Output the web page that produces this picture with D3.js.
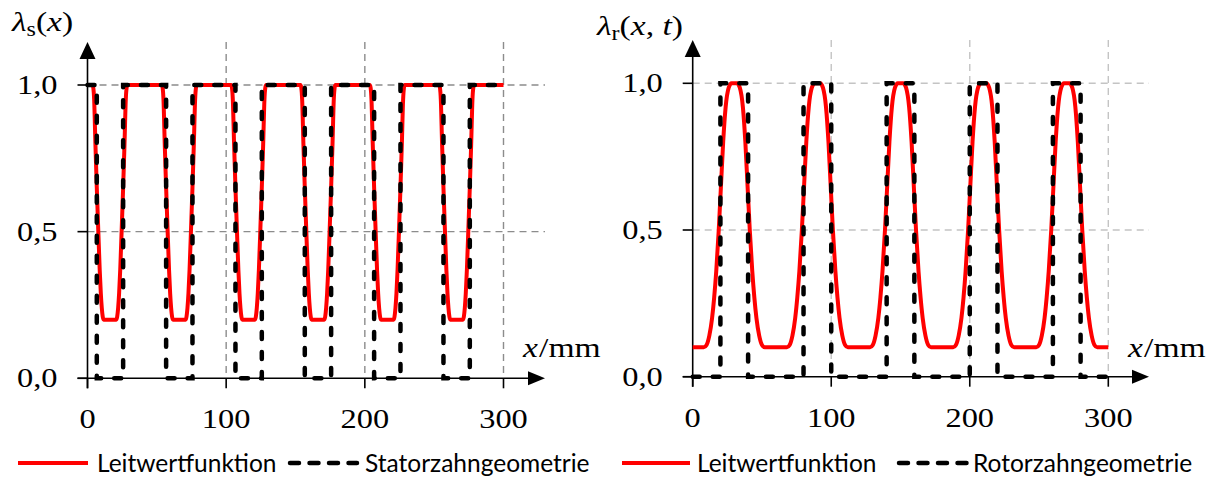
<!DOCTYPE html>
<html>
<head>
<meta charset="utf-8">
<script src="https://cdn.jsdelivr.net/npm/d3@7"></script>
<style>
    body { margin: 0; background: #fff; }
    svg text { fill: #000; }
</style>
</head>
<body>
<svg id="chart" width="1221" height="477"></svg>
<script>
// Axis ticks (shared by both panels)
const xTicks = [0, 100, 200, 300];
const xGridTicks = [100, 200, 300];
const yTicks = [0, 0.5, 1];
const yTickLabels = ['0,0', '0,5', '1,0'];
const yGridTicks = [0.5, 1];

const statorDipCenters = [16.2, 66.2, 116.2, 166.2, 216.2, 266.2];
const statorDipOffsets = [-12.6, -12, -11.4, -10.5, -9.5, -8.4, -7.4, -6.6, -5.9, -5.2, -4.6,
                          4.6, 5.2, 5.9, 6.6, 7.4, 8.4, 9.5, 10.5, 11.4, 12, 12.6];
const statorDipValues = [1, 0.99, 0.95, 0.8, 0.65, 0.5, 0.37, 0.29, 0.24, 0.21, 0.2,
                         0.2, 0.21, 0.24, 0.29, 0.37, 0.5, 0.65, 0.8, 0.95, 0.99, 1];
const statorEndValue = 1;
// Stator tooth geometry (step after)
const statorGeomX = [0, 6.7, 25.7, 56.7, 75.7, 106.7, 125.7, 156.7, 175.7, 206.7, 225.7, 256.7, 275.7, 300];
const statorGeomY = [1, 0, 1, 0, 1, 0, 1, 0, 1, 0, 1, 0, 1, 1];

const rotorPeakCenters = [30, 90, 150, 210, 270];
const rotorPeakOffsets = [-22, -20, -18, -16, -14.5, -13, -11.2, -9.6, -8, -6.2, -4, -2,
                          2, 4, 6.2, 8, 9.6, 11.2, 13, 14.5, 16, 18, 20, 22];
const rotorPeakValues = [0.1, 0.108, 0.14, 0.2, 0.27, 0.36, 0.5, 0.65, 0.8, 0.92, 0.985, 1,
                         1, 0.985, 0.92, 0.8, 0.65, 0.5, 0.36, 0.27, 0.2, 0.14, 0.108, 0.1];
const rotorEndValue = 0.1;
// Rotor tooth geometry (step after)
const rotorGeomX = [0, 20, 40, 80, 100, 140, 160, 200, 220, 260, 280, 300];
const rotorGeomY = [0, 1, 0, 1, 0, 1, 0, 1, 0, 1, 0, 0];

const legendLeft = ['Leitwertfunktion', 'Statorzahngeometrie'];
const legendRight = ['Leitwertfunktion', 'Rotorzahngeometrie'];

const svg = d3.select('#chart');
// only Liberation Serif is a true serif here; widen it a bit to look like Cambria
const serif = "'Liberation Serif', serif";
const widen = 1.2;
const sans = "Lato, 'Open Sans', sans-serif";

// Build the conductance curve from the shape placed at each centre
function buildCurve(centers, offsets, values, endValue) {
    const pts = [{ x: 0, y: endValue }];
    centers.forEach(c => {
        offsets.forEach((o, i) => pts.push({ x: c + o, y: values[i] }));
    });
    pts.push({ x: 300, y: endValue });
    return pts;
}

function drawPanel(cfg) {
    const g = svg.append('g');
    const x = d3.scaleLinear().domain([0, 300]).range(cfg.xRange);
    const y = d3.scaleLinear().domain([0, 1]).range(cfg.yRange);
    const x0 = x(0), y0 = y(0);

    // grid
    g.selectAll('.hgrid').data(yGridTicks).enter().append('line')
        .attr('x1', x0).attr('x2', cfg.xEnd)
        .attr('y1', d => y(d)).attr('y2', d => y(d))
        .attr('stroke', cfg.gridColor).attr('stroke-width', 1.4)
        .attr('stroke-dasharray', '7,5');
    g.selectAll('.vgrid').data(xGridTicks).enter().append('line')
        .attr('x1', d => x(d)).attr('x2', d => x(d))
        .attr('y1', cfg.yTop).attr('y2', y0)
        .attr('stroke', cfg.gridColor).attr('stroke-width', 1.4)
        .attr('stroke-dasharray', '7,5');

    // axes
    g.append('line').attr('x1', x0 - 10).attr('x2', cfg.xEnd - 12)
        .attr('y1', y0).attr('y2', y0).attr('stroke', '#000').attr('stroke-width', 1.6);
    g.append('line').attr('x1', x0).attr('x2', x0)
        .attr('y1', y0 + 10).attr('y2', cfg.yTop + 12).attr('stroke', '#000').attr('stroke-width', 1.6);
    g.append('path')
        .attr('d', `M${cfg.xEnd},${y0} L${cfg.xEnd - 17},${y0 - 7} L${cfg.xEnd - 17},${y0 + 7} Z`)
        .attr('fill', '#000');
    g.append('path')
        .attr('d', `M${x0},${cfg.yTop} L${x0 - 8},${cfg.yTop + 17} L${x0 + 8},${cfg.yTop + 17} Z`)
        .attr('fill', '#000');

    // ticks
    g.selectAll('.xt').data(xTicks).enter().append('line')
        .attr('x1', d => x(d)).attr('x2', d => x(d))
        .attr('y1', y0).attr('y2', y0 + 10)
        .attr('stroke', '#000').attr('stroke-width', 1.6);
    g.selectAll('.yt').data(yTicks).enter().append('line')
        .attr('x1', x0 - 10).attr('x2', x0)
        .attr('y1', d => y(d)).attr('y2', d => y(d))
        .attr('stroke', '#000').attr('stroke-width', 1.6);

    // tick labels
    g.selectAll('.xl').data(xTicks).enter().append('text')
        .attr('transform', d => `translate(${x(d)},${cfg.xLabelY}) scale(${widen},1)`)
        .attr('text-anchor', 'middle')
        .attr('font-family', serif).attr('font-size', 27)
        .text(d => d);
    g.selectAll('.yl').data(yTicks).enter().append('text')
        .attr('transform', d => `translate(${x0 - 30},${y(d) + 9}) scale(${widen},1)`)
        .attr('text-anchor', 'end')
        .attr('font-family', serif).attr('font-size', 27)
        .text((d, i) => yTickLabels[i]);

    // axis titles
    const xt = g.append('text')
        .attr('transform', `translate(${cfg.xTitle[0]},${cfg.xTitle[1]}) scale(${widen},1)`)
        .attr('font-family', serif).attr('font-size', 28);
    xt.append('tspan').attr('font-style', 'italic').text('x');
    xt.append('tspan').attr('dx', 1).text('/mm');

    const yt = g.append('text')
        .attr('transform', `translate(${cfg.yTitle[0]},${cfg.yTitle[1]}) scale(${widen},1)`)
        .attr('font-family', serif).attr('font-size', 28);
    yt.append('tspan').attr('font-style', 'italic').text('λ');
    yt.append('tspan').attr('dy', 5).attr('font-size', 20).text(cfg.sub);
    yt.append('tspan').attr('dy', -5).text('(');
    yt.append('tspan').attr('font-style', 'italic').text('x');
    if (cfg.withT) {
        yt.append('tspan').text(', ');
        yt.append('tspan').attr('font-style', 'italic').text('t');
    }
    yt.append('tspan').text(')');

    // conductance curve
    const line = d3.line().x(d => x(d.x)).y(d => y(d.y)).curve(d3.curveMonotoneX);
    g.append('path').datum(cfg.curve)
        .attr('d', line)
        .attr('fill', 'none').attr('stroke', '#ff0000').attr('stroke-width', 4);

    // tooth geometry
    const step = d3.line().x(d => x(d[0])).y(d => y(d[1])).curve(d3.curveStepAfter);
    g.append('path').datum(cfg.geomX.map((v, i) => [v, cfg.geomY[i]]))
        .attr('d', step)
        .attr('fill', 'none').attr('stroke', '#000').attr('stroke-width', 4.5)
        .attr('stroke-linecap', 'round').attr('stroke-dasharray', '7,13');

    // legend
    const lg = svg.append('g');
    const ly = 463;
    const [rA, rB, tA, dA, dB, tB] = cfg.legendPos;
    lg.append('line').attr('x1', rA).attr('x2', rB).attr('y1', ly).attr('y2', ly)
        .attr('stroke', '#ff0000').attr('stroke-width', 4);
    lg.append('text').attr('x', tA).attr('y', ly).attr('dy', '0.36em')
        .attr('font-family', sans).attr('font-size', 24.5)
        .text(cfg.legend[0]);
    lg.append('line').attr('x1', dA).attr('x2', dB).attr('y1', ly).attr('y2', ly)
        .attr('stroke', '#000').attr('stroke-width', 4.5)
        .attr('stroke-linecap', 'round').attr('stroke-dasharray', '9,10.5')
        .attr('transform', 'translate(2,0)');
    lg.append('text').attr('x', tB).attr('y', ly).attr('dy', '0.36em')
        .attr('font-family', sans).attr('font-size', 24.5)
        .text(cfg.legend[1]);
}

drawPanel({
    xRange: [87.5, 503.5], yRange: [378.3, 85],
    xEnd: 545, yTop: 42, gridColor: '#8c8c8c',
    xLabelY: 428, xTitle: [523, 357], yTitle: [12, 31],
    sub: 's', withT: false,
    curve: buildCurve(statorDipCenters, statorDipOffsets, statorDipValues, statorEndValue),
    geomX: statorGeomX, geomY: statorGeomY,
    legend: legendLeft, legendPos: [18, 88, 97, 288, 355, 365]
});

drawPanel({
    xRange: [692.7, 1108.3], yRange: [376.7, 83.3],
    xEnd: 1149, yTop: 40, gridColor: '#c4c4c4',
    xLabelY: 427, xTitle: [1128, 357], yTitle: [597, 35],
    sub: 'r', withT: true,
    curve: buildCurve(rotorPeakCenters, rotorPeakOffsets, rotorPeakValues, rotorEndValue),
    geomX: rotorGeomX, geomY: rotorGeomY,
    legend: legendRight, legendPos: [622, 690, 697, 897, 965, 973]
});
</script>
</body>
</html>
